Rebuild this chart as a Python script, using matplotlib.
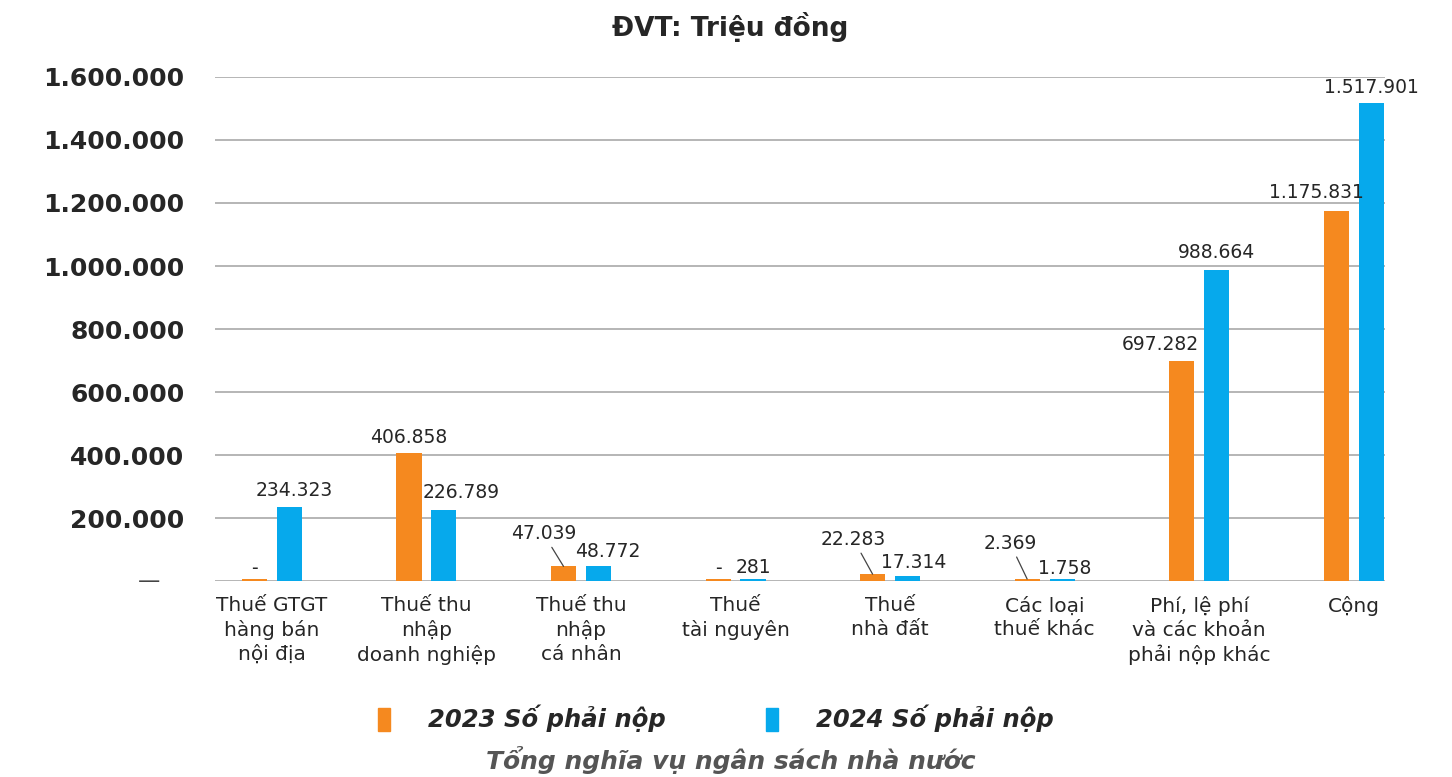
import matplotlib
matplotlib.use("Agg")
import matplotlib.pyplot as plt
from matplotlib.patches import Patch
import numpy as np

plt.rcParams['font.family'] = ['DejaVu Sans']

categories = ["Thuế GTGT\nhàng bán\nnội địa", "Thuế thu\nnhập\ndoanh nghiệp", "Thuế thu\nnhập\ncá nhân",
              "Thuế\ntài nguyên", "Thuế\nnhà đất", "Các loại\nthuế khác",
              "Phí, lệ phí\nvà các khoản\nphải nộp khác", "Cộng"]
vals_2023 = [0, 406858, 47039, 0, 22283, 2369, 697282, 1175831]
vals_2024 = [234323, 226789, 48772, 281, 17314, 1758, 988664, 1517901]
series_names = ["2023 Số phải nộp", "2024 Số phải nộp"]

orange = '#F5891F'
blue = '#06A9EC'
text_col = '#262626'

def fmt(v):
    if v == 0:
        return "-"
    return f"{v:,.0f}".replace(",", ".")

# label offsets (pixels) from bar top center
off_2023 = [(0, 1), (0, 6), (-20, 23), (0, 1), (-19, 25), (-17, 26), (-21, 7), (-20, 9)]
off_2024 = [(5, 7), (17, 8), (9, 5), (0, 2), (6, 4), (3, 1), (0, 8), (0, 6)]
leader_2023 = [False, False, True, False, True, True, False, False]

fig = plt.figure(figsize=(14.52, 7.77), dpi=100)
ax = fig.add_axes([0.148, 0.252, 0.806, 0.649])

x = np.arange(len(categories))
w = 0.162
off = 0.113
min_bar = 7000  # keep near-zero bars visible like the original
b1 = ax.bar(x - off, np.maximum(vals_2023, min_bar), w, color=orange, zorder=3)
b2 = ax.bar(x + off, np.maximum(vals_2024, min_bar), w, color=blue, zorder=3)

for bars, vals, offs, lead in [(b1, vals_2023, off_2023, leader_2023),
                               (b2, vals_2024, off_2024, [False] * 8)]:
    for i, (bar, v) in enumerate(zip(bars, vals)):
        xc = bar.get_x() + bar.get_width() / 2
        top = bar.get_height()
        kw = {}
        if lead[i]:
            kw['arrowprops'] = dict(arrowstyle='-', color='#444444', lw=0.9, shrinkA=1, shrinkB=0)
        ax.annotate(fmt(v), (xc, top), xytext=offs[i], textcoords='offset pixels',
                    ha='center', va='bottom', fontsize=13.5, color=text_col, **kw)

ax.set_xlim(-0.369, 7.204)
ax.set_ylim(0, 1600000)
yt = np.arange(0, 1600001, 200000)
ax.set_yticks(yt)
ax.set_yticklabels(["" if v == 0 else fmt(v) for v in yt], fontsize=18,
                   fontweight='bold', color=text_col)
ax.annotate("—", (0, 0), xycoords=('axes fraction', 'data'), xytext=(-55, 0),
            textcoords='offset pixels', ha='right', va='center', fontsize=16, color='#444444')
ax.tick_params(axis='y', length=0, pad=22)
ax.set_xticks(x)
ax.set_xticklabels(categories, fontsize=14.5, color=text_col, linespacing=1.3)
ax.tick_params(axis='x', length=0, pad=11)
ax.grid(axis='y', color='#b5b5b5', lw=1.4, zorder=0)
for s in ax.spines.values():
    s.set_visible(False)

fig.text(0.503, 0.965, "ĐVT: Triệu đồng", ha='center', va='center', fontsize=19,
         fontweight='bold', color=text_col)

handles = [Patch(color=orange), Patch(color=blue)]
leg = fig.legend(handles, series_names, loc='center', bbox_to_anchor=(0.493, 0.075), ncol=2,
                 frameon=False, handlelength=0.5, handleheight=1.07, handletextpad=1.56,
                 columnspacing=4.1, prop={'size': 17.5, 'weight': 'bold', 'style': 'italic'})
for t in leg.get_texts():
    t.set_color(text_col)

fig.text(0.503, 0.022, "Tổng nghĩa vụ ngân sách nhà nước", ha='center', va='center',
         fontsize=18, fontweight='bold', style='italic', color='#555555')

plt.savefig("out.png", dpi=100)
